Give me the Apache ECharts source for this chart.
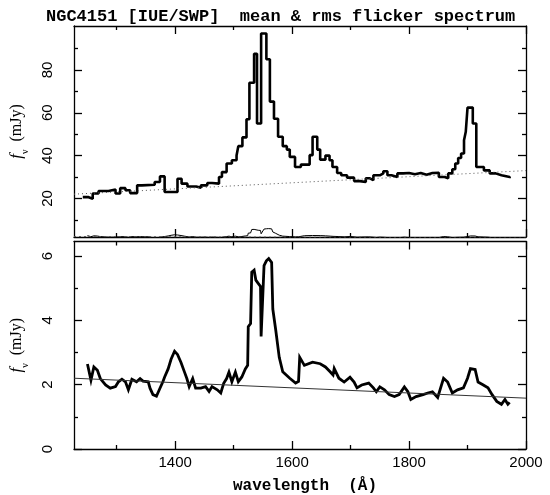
<!DOCTYPE html>
<html>
<head>
<meta charset="utf-8">
<script src="https://cdn.jsdelivr.net/npm/echarts@6/dist/echarts.min.js"></script>
<style>
  html, body { margin: 0; padding: 0; background: #fff; }
  #chart_container { width: 550px; height: 495px; }
</style>
</head>
<body>
<div id="chart_container"></div>
<script>
// mean spectrum (step histogram), wavelength in A, flux in mJy
var meanWave = [1242,1252,1259,1269,1286,1298,1306,1315,1323,1335,1343,1365,1374,1382,1404,1411,1421,1436,1444,1455,
    1463,1475,1480,1488,1497,1505,1508,1515,1522,1527,1535,1540,1547,1556,1562,1569,1576,1584,1591,1596,
    1605,1615,1630,1635,1643,1648,1657,1664,1669,1677,1684,1694,1706,1716,1726,1733,1739,1750,1756,1763,
    1770,1780,1790,1800,1810,1820,1830,1840,1851,1861,1867,1874,1879,1884,1889,1894,1897,1900,1909,1915,
    1928,1938,1948,1958,1972];
var meanFlux = [20.6,19.9,22.3,23.5,24.2,22.3,24.8,23.8,22.5,26.1,26.4,27.7,30.3,23.0,29.2,26.9,25.6,25.0,26.1,27.2,
    26.9,30.0,32.3,36.3,37.8,40.0,44.4,48.5,57,74,87.5,55,97,85,65.2,57.2,48.8,44.4,42.8,39.4,
    34.7,35.8,40.2,48.8,42.8,38.1,40,37.8,34.7,31.9,30.8,29.7,28.1,27.7,29.4,28.5,30.8,31.7,32.7,30.8,
    30.0,31.7,31.9,31.3,31.9,31.1,31.9,32.0,30.0,29.4,31.7,33.6,36.3,38.9,41.0,47.2,51.1,62.4,55.0,34.7,
    33.1,31.7,30.8,30.0,29.4];

// rms flicker spectrum
var rmsWave = [1250,1256,1261,1267,1272,1281,1289,1298,1303,1309,1315,1320,1326,1334,1340,1345,1354,1357,1362,1368,
    1374,1379,1382,1388,1393,1399,1404,1410,1416,1420,1424,1430,1435,1444,1452,1458,1463,1472,1478,1483,
    1488,1492,1497,1503,1508,1514,1520,1524,1525,1529,1531,1535,1538,1542,1546,1547,1550,1552,1556,1560,
    1565,1567,1572,1578,1584,1596,1606,1611,1613,1621,1635,1648,1657,1665,1670,1672,1680,1689,1699,1706,
    1711,1719,1731,1739,1744,1750,1758,1766,1775,1783,1792,1798,1803,1812,1824,1832,1840,1849,1854,1859,
    1866,1874,1883,1893,1900,1905,1913,1918,1927,1935,1942,1950,1958,1964,1969,1972];
var rmsFlux = [2.64,2.14,2.55,2.45,2.19,1.99,1.89,1.94,2.09,2.17,2.09,1.84,2.17,2.09,2.19,2.11,2.09,1.89,1.69,1.64,
    1.89,2.09,2.24,2.49,2.79,3.04,2.94,2.69,2.39,2.19,1.94,2.19,1.89,1.89,1.94,1.79,1.94,1.84,1.74,2.04,
    2.19,2.39,2.09,2.39,2.09,2.24,2.49,2.6,3.8,3.9,5.5,5.56,5.25,5.15,5.05,3.5,3.45,5.7,5.85,5.92,
    5.8,4.35,3.7,2.85,2.4,2.2,2.05,2.1,2.85,2.6,2.7,2.65,2.55,2.4,2.3,2.5,2.2,2.08,2.23,2.08,
    1.9,1.99,2.05,1.9,1.78,1.93,1.84,1.69,1.63,1.69,1.93,1.78,1.54,1.63,1.69,1.74,1.78,1.6,1.9,2.2,
    2.08,1.74,1.84,1.9,2.2,2.5,2.47,2.08,1.99,1.9,1.69,1.48,1.39,1.54,1.39,1.45];

// continuum fits
var contWave = [1227, 2000];
var meanCont = [22, 33];
var rmsCont = [2.2, 1.58];

var xMajor = [1400, 1600, 1800, 2000];
var xMinor = [1300, 1500, 1700, 1900];
var topYMajor = [20, 40, 60, 80];
var topYMinor = [10, 30, 50, 70, 90];
var botYMajor = [0, 2, 4, 6];
var botYMinor = [1, 3, 5];

var xMin = 1227, xMax = 2000;

function pairs(xs, ys) {
    var out = [];
    for (var i = 0; i < xs.length; i++) out.push([xs[i], ys[i]]);
    return out;
}

var lineCol = '#000';

function xAxes(grid, withLabels) {
    var list = [];
    var sets = [['bottom', xMajor, 8, true], ['bottom', xMinor, 4, false], ['top', xMajor, 8, false], ['top', xMinor, 4, false]];
    sets.forEach(function (s, k) {
        var ax = {
            gridIndex: grid, type: 'value', min: xMin, max: xMax, position: s[0],
            splitLine: {show: false},
            axisLine: {show: k === 0 || k === 2, onZero: false, lineStyle: {color: lineCol, width: 1.3}},
            axisTick: {show: true, inside: true, length: s[2], customValues: s[1], lineStyle: {color: lineCol, width: 1.3}},
            axisLabel: {show: false}
        };
        if (withLabels && s[3]) {
            ax.axisLabel = {
                show: true, customValues: xMajor, margin: 6, color: '#000',
                fontFamily: 'Liberation Sans', fontSize: 15,
                formatter: function (v) { return String(v); }
            };
            ax.name = 'wavelength  (\u00c5)';
            ax.nameLocation = 'middle';
            ax.nameGap = 29;
            ax.nameTextStyle = {fontFamily: 'Liberation Mono', fontWeight: 'bold', fontSize: 16, color: '#000', padding: [0, 0, 0, 10]};
        }
        list.push(ax);
    });
    return list;
}

function yAxes(grid, lo, hi, major, minor) {
    var list = [];
    var sets = [['left', major, 8, true], ['left', minor, 4, false], ['right', major, 8, false], ['right', minor, 4, false]];
    sets.forEach(function (s, k) {
        var ax = {
            gridIndex: grid, type: 'value', min: lo, max: hi, position: s[0],
            splitLine: {show: false},
            axisLine: {show: k === 0 || k === 2, onZero: false, lineStyle: {color: lineCol, width: 1.3}},
            axisTick: {show: true, inside: true, length: s[2], customValues: s[1], lineStyle: {color: lineCol, width: 1.3}},
            axisLabel: {show: false}
        };
        if (s[3]) {
            ax.axisLabel = {
                show: true, customValues: major, rotate: 90, margin: 19, color: '#000',
                fontFamily: 'Liberation Sans', fontSize: 15,
                formatter: function (v) { return String(v); }
            };
            ax.name = '{f|f}{s|\u03bd}  (mJy)';
            ax.nameLocation = 'middle';
            ax.nameRotate = 90;
            ax.nameGap = 49;
            ax.nameTextStyle = {
                fontFamily: 'Liberation Serif', fontSize: 16, color: '#000',
                rich: {
                    f: {fontFamily: 'Liberation Serif', fontStyle: 'italic', fontSize: 17, color: '#000'},
                    s: {fontFamily: 'Liberation Serif', fontSize: 10, color: '#000', verticalAlign: 'bottom', padding: [0, 0, -5, 0]}
                }
            };
        }
        list.push(ax);
    });
    return list;
}

var dom = document.getElementById('chart_container');
var myChart = echarts.init(dom, null, {renderer: 'canvas'});

var option = {
    backgroundColor: '#fff',
    animation: false,
    title: {
        text: 'NGC4151 [IUE/SWP]  mean & rms flicker spectrum',
        left: 41, top: 3,
        textStyle: {fontFamily: 'Liberation Mono', fontWeight: 'bold', fontSize: 17, color: '#000'}
    },
    grid: [
        {left: 68, top: 26, width: 458, height: 211},
        {left: 68, top: 241.5, width: 458, height: 214.5}
    ],
    xAxis: xAxes(0, false).concat(xAxes(1, true)),
    yAxis: yAxes(0, 2, 100.5, topYMajor, topYMinor).concat(yAxes(1, 0, 6.45, botYMajor, botYMinor)),
    series: [
        {
            name: 'mean', type: 'line', step: 'end', xAxisIndex: 0, yAxisIndex: 0,
            showSymbol: false, data: pairs(meanWave, meanFlux),
            lineStyle: {color: '#000', width: 2.6}
        },
        {
            name: 'mean continuum', type: 'line', xAxisIndex: 0, yAxisIndex: 0,
            showSymbol: false, data: pairs(contWave, meanCont),
            lineStyle: {color: '#555', width: 1, type: [1, 3]}
        },
        {
            name: 'rms (top)', type: 'line', xAxisIndex: 0, yAxisIndex: 0,
            showSymbol: false, data: pairs(rmsWave, rmsFlux),
            lineStyle: {color: '#000', width: 1}
        },
        {
            name: 'rms continuum (top)', type: 'line', xAxisIndex: 0, yAxisIndex: 0,
            showSymbol: false, data: pairs(contWave, rmsCont),
            lineStyle: {color: '#555', width: 1, type: [2, 3]}
        },
        {
            name: 'rms', type: 'line', xAxisIndex: 4, yAxisIndex: 4,
            showSymbol: false, data: pairs(rmsWave, rmsFlux),
            lineStyle: {color: '#000', width: 2.8, join: 'miter'}
        },
        {
            name: 'rms continuum', type: 'line', xAxisIndex: 4, yAxisIndex: 4,
            showSymbol: false, data: pairs(contWave, rmsCont),
            lineStyle: {color: '#333', width: 1}
        }
    ]
};

myChart.setOption(option, true);
</script>
</body>
</html>
